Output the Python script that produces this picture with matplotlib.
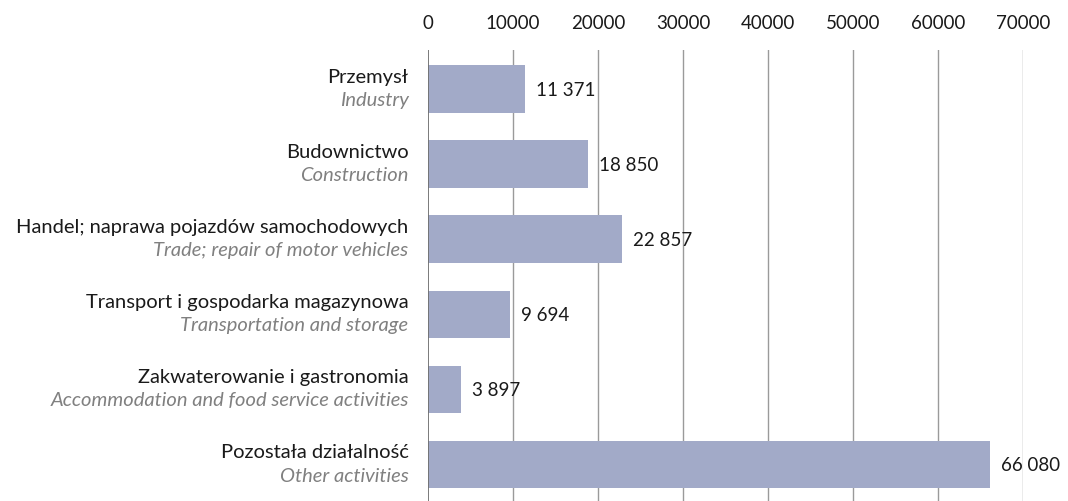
import matplotlib
matplotlib.use("Agg")
import matplotlib.pyplot as plt

categories_pl = ["Przemysł", "Budownictwo", "Handel; naprawa pojazdów samochodowych",
                 "Transport i gospodarka magazynowa", "Zakwaterowanie i gastronomia",
                 "Pozostała działalność"]
categories_en = ["Industry", "Construction", "Trade; repair of motor vehicles",
                 "Transportation and storage", "Accommodation and food service activities",
                 "Other activities"]
values = [11371, 18850, 22857, 9694, 3897, 66080]
xticks = [0, 10000, 20000, 30000, 40000, 50000, 60000, 70000]

FONT = "Lato"
plt.rcParams['font.family'] = [FONT, 'DejaVu Sans']

W, H = 1068, 501
fig = plt.figure(figsize=(W / 100, H / 100), dpi=100)
left, right, top, bottom = 428, 1023, 50, 501
ax = fig.add_axes([left / W, 1 - bottom / H, (right - left) / W, (bottom - top) / H])

ypos = list(range(len(values)))
ax.barh(ypos, values, height=0.63, color="#a2aac8", zorder=3)
ax.set_xlim(0, 70000)
ax.set_ylim(5.49, -0.52)

ax.xaxis.tick_top()
ax.set_xticks(xticks)
ax.set_xticklabels([str(t) for t in xticks], fontsize=13.5, color="#1a1a1a")
ax.tick_params(axis='x', length=0, pad=13)
ax.set_yticks([])
for s in ax.spines.values():
    s.set_visible(False)
for t in xticks[1:]:
    ax.axvline(t, color="#9a9a9a", lw=1, zorder=1)
ax.axvline(0, color="#707070", lw=1.3, zorder=4)

for y, v, pl, en in zip(ypos, values, categories_pl, categories_en):
    ax.text(v + 1300, y + 0.02, f"{v:,}".replace(",", " "), va="center", ha="left",
            fontsize=13.5, color="#1a1a1a")
    ax.annotate(pl, xy=(0, y), xycoords="data", xytext=(-14, 8.5), textcoords="offset points",
                ha="right", va="center", fontsize=14.5, color="#1a1a1a", annotation_clip=False)
    ax.annotate(en, xy=(0, y), xycoords="data", xytext=(-14, -8.5), textcoords="offset points",
                ha="right", va="center", fontsize=14.5, color="#808080", style="italic",
                annotation_clip=False)

fig.savefig("out.png", dpi=100)
